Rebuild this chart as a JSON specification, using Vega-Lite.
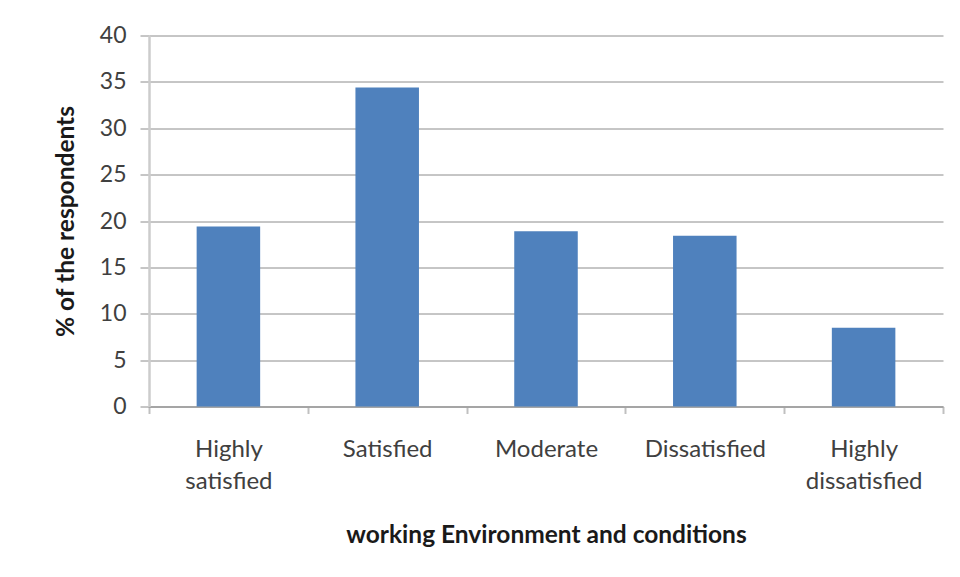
{
  "$schema": "https://vega.github.io/schema/vega-lite/v6.json",
  "autosize": "none",
  "padding": {"left": 149, "top": 35.5, "right": 17, "bottom": 170},
  "width": 794,
  "height": 371,
  "background": "white",
  "config": {
    "view": {"stroke": null},
    "font": "Lato"
  },
  "data": {
    "values": [
      {"level": "Highly satisfied", "percent": 19.4},
      {"level": "Satisfied", "percent": 34.4},
      {"level": "Moderate", "percent": 18.9},
      {"level": "Dissatisfied", "percent": 18.4},
      {"level": "Highly dissatisfied", "percent": 8.5}
    ]
  },
  "mark": {"type": "bar", "color": "#4f81bd", "width": {"band": 0.4}},
  "encoding": {
    "x": {
      "field": "level",
      "type": "nominal",
      "sort": null,
      "scale": {"paddingInner": 0, "paddingOuter": 0},
      "axis": {
        "title": "working Environment and conditions",
        "titleFont": "Lato",
        "titleFontSize": 24.5,
        "titleFontWeight": "bold",
        "titleColor": "#1a1a1a",
        "titlePadding": 30,
        "labelAngle": 0,
        "labelFont": "Lato",
        "labelFontSize": 24,
        "labelColor": "#404040",
        "labelPadding": 24,
        "labelBaseline": "top",
        "labelLineHeight": 32,
        "labelExpr": "indexof(datum.label, 'Highly ') == 0 ? ['Highly', substring(datum.label, 7)] : datum.label",
        "tickBand": "extent",
        "tickColor": "#c0c0c0",
        "tickWidth": 2,
        "tickSize": 7,
        "domainColor": "#9a9a9a",
        "domainWidth": 1.5
      }
    },
    "y": {
      "field": "percent",
      "type": "quantitative",
      "scale": {"domain": [0, 40], "nice": false},
      "axis": {
        "title": "% of the respondents",
        "titleFont": "Lato",
        "titleFontSize": 24.5,
        "titleFontWeight": "bold",
        "titleColor": "#1a1a1a",
        "titlePadding": 21,
        "values": [0, 5, 10, 15, 20, 25, 30, 35, 40],
        "labelFont": "Lato",
        "labelFontSize": 23,
        "labelColor": "#404040",
        "labelPadding": 14,
        "tickSize": 9,
        "tickColor": "#8c8c8c",
        "gridColor": "#8c8c8c",
        "gridWidth": 1,
        "domainColor": "#cccccc",
        "domainWidth": 2.5
      }
    }
  }
}
